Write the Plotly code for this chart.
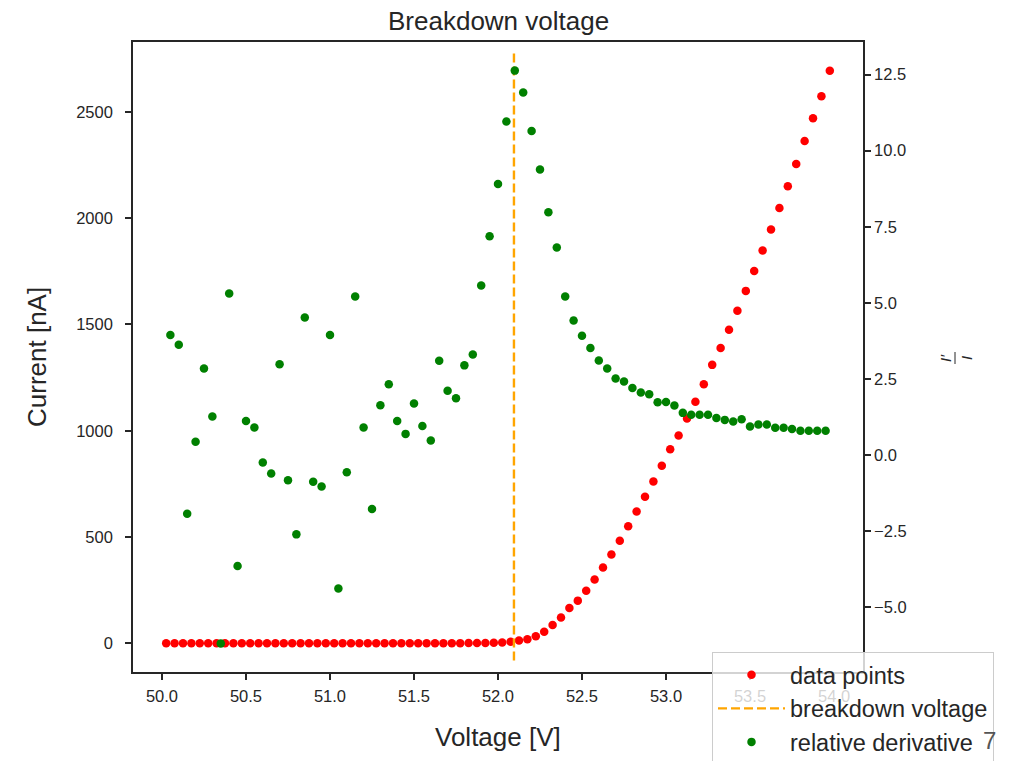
import plotly.graph_objects as go

# measured current, one point per voltage step
voltage = [50.025, 50.075, 50.125, 50.175, 50.225, 50.275, 50.325, 50.375, 50.425, 50.475,
           50.525, 50.575, 50.625, 50.675, 50.725, 50.775, 50.825, 50.875, 50.925, 50.975,
           51.025, 51.075, 51.125, 51.175, 51.225, 51.275, 51.325, 51.375, 51.425, 51.475,
           51.525, 51.575, 51.625, 51.675, 51.725, 51.775, 51.825, 51.875, 51.925, 51.975,
           52.025, 52.075, 52.125, 52.175, 52.225, 52.275, 52.325, 52.375, 52.425, 52.475,
           52.525, 52.575, 52.625, 52.675, 52.725, 52.775, 52.825, 52.875, 52.925, 52.975,
           53.025, 53.075, 53.125, 53.175, 53.225, 53.275, 53.325, 53.375, 53.425, 53.475,
           53.525, 53.575, 53.625, 53.675, 53.725, 53.775, 53.825, 53.875, 53.925, 53.975]
current = [0.3, 0.2, 0.4, 0.3, 0.2, 0.4, 0.3, 0.5, 0.3, 0.4,
           0.4, 0.3, 0.5, 0.4, 0.4, 0.5, 0.4, 0.5, 0.5, 0.6,
           0.5, 0.6, 0.6, 0.6, 0.7, 0.7, 0.7, 0.8, 0.8, 0.8,
           0.9, 0.9, 0.9, 1.0, 1.0, 1.1, 1.3, 1.6, 2.1, 3.0,
           4.6, 8, 13, 19, 33, 55, 86, 122, 166, 201,
           248, 300, 357, 418, 483, 551, 620, 690, 761, 835,
           913, 978, 1058, 1136, 1219, 1310, 1389, 1475, 1565, 1658,
           1752, 1848, 1947, 2048, 2150, 2255, 2363, 2470, 2574, 2694]

# relative derivative I'/I, evaluated between neighbouring points
deriv_v = [50.05, 50.10, 50.15, 50.20, 50.25, 50.30, 50.35, 50.40, 50.45, 50.50,
           50.55, 50.60, 50.65, 50.70, 50.75, 50.80, 50.85, 50.90, 50.95, 51.00,
           51.05, 51.10, 51.15, 51.20, 51.25, 51.30, 51.35, 51.40, 51.45, 51.50,
           51.55, 51.60, 51.65, 51.70, 51.75, 51.80, 51.85, 51.90, 51.95, 52.00,
           52.05, 52.10, 52.15, 52.20, 52.25, 52.30, 52.35, 52.40, 52.45, 52.50,
           52.55, 52.60, 52.65, 52.70, 52.75, 52.80, 52.85, 52.90, 52.95, 53.00,
           53.05, 53.10, 53.15, 53.20, 53.25, 53.30, 53.35, 53.40, 53.45, 53.50,
           53.55, 53.60, 53.65, 53.70, 53.75, 53.80, 53.85, 53.90, 53.95]
rel_deriv = [3.95, 3.63, -1.92, 0.44, 2.85, 1.27, -6.18, 5.31, -3.64, 1.12,
             0.91, -0.24, -0.60, 2.99, -0.82, -2.60, 4.52, -0.87, -1.03, 3.95,
             -4.38, -0.56, 5.21, 0.91, -1.77, 1.64, 2.33, 1.12, 0.70, 1.70,
             0.96, 0.48, 3.10, 2.12, 1.87, 2.95, 3.31, 5.57, 7.19, 8.91,
             10.96, 12.63, 11.91, 10.65, 9.38, 7.98, 6.82, 5.21, 4.42, 3.92,
             3.52, 3.11, 2.85, 2.52, 2.42, 2.21, 2.06, 2.00, 1.74, 1.75,
             1.63, 1.39, 1.33, 1.33, 1.33, 1.22, 1.16, 1.11, 1.18, 0.94,
             1.01, 1.01, 0.90, 0.90, 0.86, 0.80, 0.80, 0.80, 0.80]

breakdown_v = 52.095

FONT = "Liberation Sans, Arial, sans-serif"
INK = "#262626"

# plot box on the page (body has an 8px margin around the figure div)
BOX_L, BOX_R, BOX_T, BOX_B = 133, 863, 42, 672


def px(x, y):
    # page pixel -> paper coords, only used for the text labels
    return (x - BOX_L) / (BOX_R - BOX_L), (BOX_B - y) / (BOX_B - BOX_T)


imax = max(current)

fig = go.Figure()
fig.add_trace(go.Scatter(x=voltage, y=current, mode="markers", name="data points",
                         marker=dict(color="red", size=8.5)))
fig.add_trace(go.Scatter(x=[breakdown_v, breakdown_v], y=[-0.03 * imax, 1.03 * imax],
                         mode="lines", name="breakdown voltage",
                         line=dict(color="orange", width=2.4, dash="9px,4px")))
fig.add_trace(go.Scatter(x=deriv_v, y=rel_deriv, mode="markers", name="relative derivative",
                         marker=dict(color="green", size=8.5), yaxis="y2"))

axis_common = dict(showgrid=False, zeroline=False, showline=True, linecolor=INK, linewidth=1.6,
                   ticks="outside", ticklen=6, tickwidth=1.5, tickcolor=INK,
                   tickfont=dict(family=FONT, size=16.5, color=INK))

fig.update_layout(
    width=1015, height=761,
    margin=dict(l=BOX_L - 8, r=1015 + 8 - BOX_R, t=BOX_T - 8, b=761 + 8 - BOX_B, autoexpand=False),
    paper_bgcolor="white", plot_bgcolor="white",
    font=dict(family=FONT, color=INK),
    xaxis=dict(range=[49.8275, 54.1725], tick0=50, dtick=0.5, tickformat=".1f", mirror=True,
               ticklabelstandoff=2, **axis_common),
    yaxis=dict(range=[-134.7, 2828.7], tick0=0, dtick=500, ticklabelstandoff=9, **axis_common),
    yaxis2=dict(range=[-7.12, 13.57], tick0=0, dtick=2.5, tickformat=".1f", overlaying="y", side="right",
                **axis_common),
    legend=dict(x=px(712, 0)[0], y=px(0, 652)[1], xanchor="left", yanchor="top",
                bgcolor="rgba(255,255,255,0.8)", bordercolor="#cccccc", borderwidth=1,
                itemwidth=67, font=dict(family=FONT, size=23.5, color=INK)),
    showlegend=True,
)

labels = [
    ("Breakdown voltage", 498, 21, 0, 26, INK),
    ("Voltage [V]", 498, 737, 0, 26, INK),
    ("Current [nA]", 37, 357, -90, 26, INK),
    ("<i>I′</i>", 945, 358, -90, 15, INK),
    ("<i>I</i>", 966, 358, -90, 15, INK),
    ("7", 990, 740, 0, 24, "#555555"),
]
for text, x, y, ang, size, col in labels:
    ax, ay = px(x, y)
    fig.add_annotation(text=text, xref="paper", yref="paper", x=ax, y=ay, xanchor="center",
                       yanchor="middle", textangle=ang, showarrow=False,
                       font=dict(family=FONT, size=size, color=col))

# fraction bar of the right-hand label
x0, y0 = px(955, 352)
x1, y1 = px(955, 364)
fig.add_shape(type="line", xref="paper", yref="paper", x0=x0, y0=y0, x1=x1, y1=y1,
              line=dict(color=INK, width=1))

fig.write_html("out.html")
